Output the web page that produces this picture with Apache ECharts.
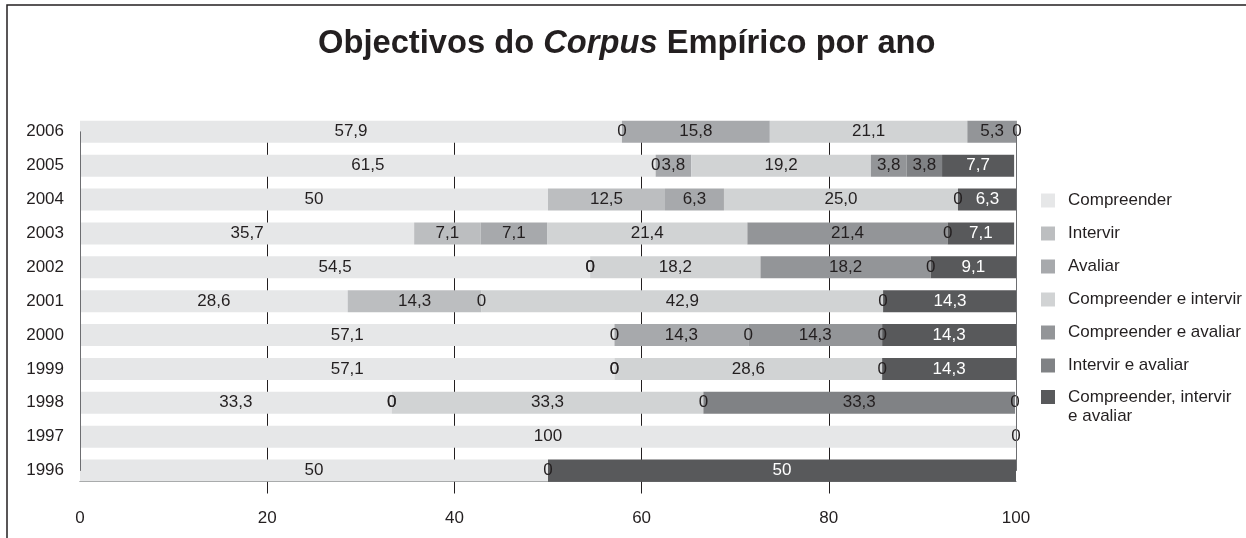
<!DOCTYPE html>
<html><head><meta charset="utf-8">
<script src="https://cdn.jsdelivr.net/npm/echarts@6/dist/echarts.min.js"></script>
<style>html,body{margin:0;padding:0;background:#fff}#c{width:1246px;height:538px}</style>
</head><body><div id="c"></div>
<script>
// ---- data (labels as printed, comma decimals) ----
const years = ['1996','1997','1998','1999','2000','2001','2002','2003','2004','2005','2006'];
const seriesNames = ['Compreender','Intervir','Avaliar','Compreender e intervir','Compreender e avaliar','Intervir e avaliar','Compreender, intervir e avaliar'];
const compreender     = ['50','100','33,3','57,1','57,1','28,6','54,5','35,7','50','61,5','57,9'];
const intervir        = ['0',null,'0','0','0','14,3','0','7,1','12,5','0','0'];
const avaliar         = [null,null,'0','0','14,3','0','0','7,1','6,3','3,8','15,8'];
const compIntervir    = [null,null,'33,3','28,6','0','42,9','18,2','21,4','25,0','19,2','21,1'];
const compAvaliar     = [null,null,'0','0','14,3','0','18,2','21,4','0','3,8','5,3'];
const intervirAvaliar = [null,'0','33,3',null,'0',null,'0','0',null,'3,8','0'];
const todos           = ['50',null,'0','14,3','14,3','14,3','9,1','7,1','6,3','7,7',null];
const xTicks = [0,20,40,60,80,100];

const raw = [compreender,intervir,avaliar,compIntervir,compAvaliar,intervirAvaliar,todos];
const palette = ['#e6e7e8','#bcbec0','#a7a9ac','#d1d3d4','#939598','#808285','#58595b'];
const labelColors = ['#231f20','#231f20','#231f20','#231f20','#231f20','#231f20','#ffffff'];
const FONT = '"Liberation Sans", Arial, Helvetica, sans-serif';
const INK = '#231f20';

const chart = echarts.init(document.getElementById('c'));
const series = raw.map((arr, si) => ({
  name: seriesNames[si],
  type: 'bar',
  stack: 'total',
  barWidth: 22,
  clip: false,
  itemStyle: { color: palette[si] },
  emphasis: { disabled: true },
  label: {
    show: true,
    position: 'inside',
    fontFamily: FONT,
    fontSize: 17,
    color: labelColors[si],
    formatter: p => {
      const s = arr[p.dataIndex];
      if (s === null) return '';
      return parseFloat(s.replace(',', '.')) === 0 ? '{z|' + s + '}' : s;
    },
    rich: { z: { color: INK, fontSize: 17, fontFamily: FONT } }
  },
  data: arr.map(s => s === null ? null : parseFloat(s.replace(',', '.')))
}));

const option = {
  animation: false,
  backgroundColor: '#ffffff',
  title: {
    text: '{a|Objectivos do }{b|Corpus}{a| Empírico por ano}',
    left: 318,
    top: 27,
    padding: 0,
    textStyle: {
      rich: {
        a: { fontFamily: FONT, fontSize: 32.7, fontWeight: 'bold', color: INK },
        b: { fontFamily: FONT, fontSize: 32.7, fontWeight: 'bold', fontStyle: 'italic', color: INK }
      }
    }
  },
  legend: [{
    orient: 'vertical',
    left: 1041,
    top: 192,
    padding: 0,
    itemWidth: 14,
    itemHeight: 14,
    itemGap: 16,
    icon: 'rect',
    selectedMode: false,
    data: seriesNames.slice(0, 6),
    textStyle: { fontFamily: FONT, fontSize: 17, color: INK, lineHeight: 14, padding: [0, 0, 0, 8] }
  }, {
    orient: 'vertical',
    left: 1041,
    top: 368.5,
    padding: 0,
    itemWidth: 14,
    itemHeight: 14,
    icon: 'rect',
    selectedMode: false,
    data: seriesNames.slice(6),
    formatter: n => '\n' + n.replace(', intervir e ', ', intervir\ne '),
    textStyle: { fontFamily: FONT, fontSize: 17, color: INK, lineHeight: 19, padding: [0, 0, 0, 8] }
  }],
  grid: { left: 80, right: 230, top: 131.8, bottom: 67.5, containLabel: false },
  xAxis: {
    type: 'value',
    min: 0, max: 100, interval: 20,
    offset: 11,
    axisLine: { show: true, lineStyle: { color: '#6d6e71', width: 1 } },
    axisTick: { show: true, inside: false, length: 12, customValues: xTicks.filter(v => v > 0 && v < 100), lineStyle: { color: INK, width: 1 } },
    axisLabel: { fontFamily: FONT, fontSize: 17, color: INK, margin: 28, customValues: xTicks },
    splitLine: { show: true, lineStyle: { color: INK, width: 1 } }
  },
  yAxis: [{
    type: 'category',
    data: years,
    boundaryGap: false,
    z: 5,
    axisLine: { show: true, lineStyle: { color: '#6d6e71', width: 1 } },
    axisTick: { show: false },
    axisLabel: { fontFamily: FONT, fontSize: 17, color: INK, margin: 16 },
    splitLine: { show: false }
  }, {
    type: 'category',
    data: years,
    position: 'right',
    boundaryGap: false,
    z: 5,
    axisLine: { show: true, lineStyle: { color: '#6d6e71', width: 1 } },
    axisTick: { show: false },
    axisLabel: { show: false },
    splitLine: { show: false }
  }],
  graphic: [{
    type: 'rect',
    x: 7, y: 5,
    shape: { width: 1400, height: 700 },
    style: { fill: 'none', stroke: INK, lineWidth: 1.5 },
    silent: true
  }],
  series: series
};
chart.setOption(option);
</script>
</body></html>
